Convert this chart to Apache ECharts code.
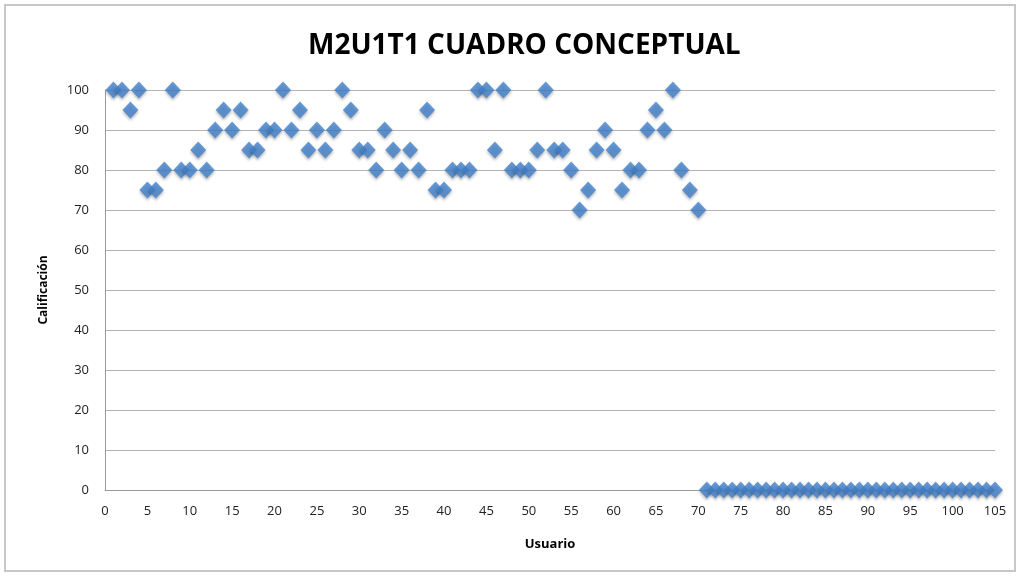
<!DOCTYPE html>
<html>
<head>
<meta charset="utf-8">
<script src="https://cdn.jsdelivr.net/npm/echarts@6/dist/echarts.min.js"></script>
<style>
  html, body { margin: 0; padding: 0; background: #fff; }
  #chart { width: 1019px; height: 576px; }
</style>
</head>
<body>
<div id="chart"></div>
<script>
// calificaciones de los usuarios 1..70, el resto (71..105) con 0
const scores = [
  100, 100, 95, 100, 75, 75, 80, 100, 80, 80,
  85, 80, 90, 95, 90, 95, 85, 85, 90, 90,
  100, 90, 95, 85, 90, 85, 90, 100, 95, 85,
  85, 80, 90, 85, 80, 85, 80, 95, 75, 75,
  80, 80, 80, 100, 100, 85, 100, 80, 80, 80,
  85, 100, 85, 85, 80, 70, 75, 85, 90, 85,
  75, 80, 80, 90, 95, 90, 100, 80, 75, 70
];
const zeroUsers = [
  71, 72, 73, 74, 75, 76, 77, 78, 79, 80,
  81, 82, 83, 84, 85, 86, 87, 88, 89, 90,
  91, 92, 93, 94, 95, 96, 97, 98, 99, 100,
  101, 102, 103, 104, 105
];

const points = [];
for (let i = 0; i < scores.length; i++) {
  points.push([i + 1, scores[i]]);
}
for (let i = 0; i < zeroUsers.length; i++) {
  points.push([zeroUsers[i], 0]);
}

const myChart = echarts.init(document.getElementById('chart'));

const labelFont = '"Open Sans", "Liberation Sans", sans-serif';

const option = {
  animation: false,
  title: {
    text: 'M2U1T1 CUADRO CONCEPTUAL',
    left: 303,
    top: 27,
    textStyle: {
      color: '#000',
      fontSize: 28,
      fontWeight: 'bold',
      fontFamily: labelFont
    }
  },
  graphic: [
    {
      type: 'rect',
      shape: { x: 5, y: 5, width: 1010, height: 566 },
      style: { fill: 'none', stroke: '#c8c8c8', lineWidth: 2 }
    }
  ],
  grid: {
    left: 105,
    right: 24,
    top: 90,
    bottom: 86,
    containLabel: false
  },
  xAxis: {
    type: 'value',
    min: 0,
    max: 105,
    interval: 5,
    name: 'Usuario',
    nameLocation: 'middle',
    nameGap: 48,
    nameTextStyle: { color: '#000', fontSize: 13, fontWeight: 'bold', fontFamily: labelFont },
    axisLine: { show: true, lineStyle: { color: '#999', width: 1 } },
    axisTick: { show: false },
    axisLabel: { color: '#222', fontSize: 13, margin: 15, fontFamily: labelFont },
    splitLine: { show: false }
  },
  yAxis: {
    type: 'value',
    min: 0,
    max: 100,
    interval: 10,
    name: 'Calificación',
    nameLocation: 'middle',
    nameGap: 55,
    nameTextStyle: { color: '#000', fontSize: 12, fontWeight: 'bold', fontFamily: labelFont },
    axisLine: { show: true, lineStyle: { color: '#999', width: 1 } },
    axisTick: { show: false },
    axisLabel: { color: '#222', fontSize: 13, margin: 16, fontFamily: labelFont },
    splitLine: { show: true, lineStyle: { color: '#b3b3b3', width: 1 } }
  },
  series: [
    {
      name: 'Calificación',
      type: 'scatter',
      symbol: 'diamond',
      symbolSize: [16, 17],
      itemStyle: {
        color: '#4281ca',
        shadowColor: 'rgba(0,0,0,0.35)',
        shadowBlur: 3,
        shadowOffsetY: 2
      },
      data: points
    }
  ]
};

myChart.setOption(option);
window.addEventListener('resize', myChart.resize);
</script>
</body>
</html>
